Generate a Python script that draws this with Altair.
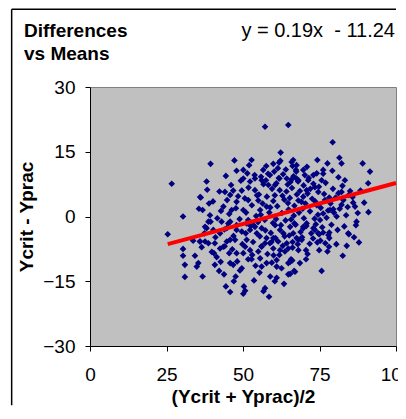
import altair as alt
import pandas as pd

# ---- data ----
x_vals = [
    26.7, 36.0, 30.4, 25.4, 30.4, 30.4, 34.3, 31.0, 31.0, 34.9, 33.7, 36.0, 35.4, 36.8,
    57.2, 64.8, 62.3, 39.4, 52.8, 59.9, 61.8, 66.2, 67.3, 47.9, 50.1, 56.6, 51.4, 38.1,
    50.1, 53.9, 52.3, 58.8, 57.5, 56.1, 61.9, 64.3, 65.9, 67.5, 36.2, 44.1, 46.8, 49.6,
    45.8, 53.9, 58.3, 60.5, 43.6, 36.8, 39.2, 47.9, 51.7, 55.0, 46.3, 50.1, 43.0, 45.2,
    38.1, 40.3, 47.9, 51.7, 53.4, 55.6, 57.7,
    79.3, 81.5, 82.2, 74.3, 77.6, 89.1, 91.5, 76.2, 74.1, 73.0, 66.4, 69.7, 67.5, 83.3,
    90.9, 75.7, 71.3, 68.1, 85.0, 82.2, 81.2, 73.5, 74.6, 70.8, 69.7, 78.2, 76.8, 82.8,
    86.6, 86.0, 82.2, 79.5, 76.2, 78.4, 80.6, 87.1, 86.9, 84.4, 75.2, 73.0, 74.6, 77.9,
    70.8, 69.7,
    84.6, 83.9, 82.6, 78.2, 78.2, 76.2, 74.9, 77.6, 74.9, 75.7, 69.2, 68.1, 66.2, 68.1,
    70.6, 71.1, 70.6, 68.6, 66.7, 65.7, 65.4, 66.8, 69.7, 73.5,
    40.8, 41.4, 42.7, 43.8, 44.4, 45.8, 47.6, 49.0, 49.6, 50.3, 50.1, 50.7, 57.2, 58.5,
    45.8, 46.8, 45.5, 47.9, 51.7, 52.8, 56.1, 57.7, 59.4, 61.0, 64.8, 64.8, 67.0, 40.5,
    42.5, 40.8, 38.7, 37.6, 35.9, 45.8, 47.4, 44.7, 43.6, 50.1, 50.7, 52.3, 51.2, 55.6,
    55.0, 56.1, 57.2, 58.8, 59.9, 61.0, 62.1, 63.7, 65.4, 64.8, 57.7, 59.9, 61.5, 63.2,
    54.5, 53.9, 56.1, 60.5, 62.1, 65.4, 66.4, 67.5, 47.9, 49.6, 42.5, 44.7, 37.6, 38.7,
    45.8, 51.2, 52.3,
    55.2, 56.4, 57.8, 58.9, 59.5, 55.8, 57.1, 58.6, 59.8, 56.7, 58.2, 55.5, 57.3, 59.1,
    56.0, 58.0, 59.3, 57.6, 55.9, 59.9,
    60.4, 61.2, 62.0, 62.7, 63.5, 64.2, 64.9, 60.8, 61.7, 62.4, 63.1, 63.9, 64.6, 60.2,
    61.4, 62.9, 63.6, 64.3, 60.6, 61.9, 63.0, 64.7, 62.2, 60.9, 64.0,
    65.3, 66.0, 66.8, 67.6, 68.3, 69.1, 69.8, 65.7, 66.5, 67.2, 68.0, 68.8, 69.5, 65.1,
    66.2, 67.9, 69.3, 65.9, 67.4, 68.6, 69.9, 66.6, 68.1, 65.5,
    70.4, 71.1, 71.9, 72.6, 73.4, 74.1, 74.8, 70.7, 71.5, 72.3, 73.0, 73.8, 74.5, 70.2,
    71.8, 72.9, 70.9, 72.0, 73.6, 74.3,
    75.4, 76.5, 77.3, 78.6, 79.4, 75.9, 77.0, 78.9, 79.7, 76.2, 77.8, 75.3, 78.1, 79.2,
    76.9,
    80.3, 81.6, 82.5, 83.7, 84.6, 80.9, 83.1, 81.2, 84.2, 80.5,
    85.8, 87.5, 88.4, 86.3, 89.6, 91.0, 87.9,
    40.2, 41.6, 42.3, 43.9, 44.8, 45.5, 46.1, 46.9, 47.7, 48.4, 48.9, 49.3, 49.8, 50.6,
    51.0, 51.8, 52.5, 52.9, 53.3, 53.8, 54.3, 54.6, 54.9, 41.0, 42.8, 44.0, 46.5, 48.1,
    50.9, 53.0, 54.1, 52.0, 47.2, 44.4, 39.8,
    35.6, 37.4, 38.9, 36.5, 38.3, 39.4,
    55.4, 58.9, 60.4, 62.6, 66.1, 63.4, 53.6, 47.0, 42.2, 56.7, 60.0, 61.0,
]
y_vals = [
    7.6, 4.5, 0.0, -4.1, -7.5, -9.1, -9.1, -11.2, -14.0, -11.6, -5.6, -5.8, -10.8, -13.9,
    20.8, 21.2, 14.8, 12.2, 13.1, 12.2, 12.5, 11.7, 10.8, 10.6, 10.8, 10.8, 10.0, 8.1,
    8.8, 8.8, 8.1, 9.6, 8.4, 8.4, 8.8, 8.8, 8.6, 8.8, 4.4, 5.7, 6.0, 6.0,
    5.0, 6.1, 7.3, 7.3, 2.3, 1.5, 0.3, 3.4, 3.8, 3.7, 1.5, 1.5, -1.2, -1.6,
    -2.7, -3.1, -2.0, -0.8, -2.0, 1.5, 2.3,
    17.2, 13.6, 12.3, 13.1, 12.3, 12.3, 10.4, 10.8, 10.0, 9.6, 13.1, 10.8, 11.9, 8.4,
    7.7, 8.4, 8.4, 8.4, 5.9, 5.7, 5.4, 6.8, 5.7, 6.1, 4.6, 4.4, 3.8, 3.8,
    2.3, 3.2, 2.7, 1.7, 0.7, 1.5, 0.0, -1.2, -2.0, -3.9, -0.8, -2.7, -3.9, -4.3,
    -1.6, -2.7,
    -4.1, -6.8, -9.1, -3.7, -5.0, -3.7, -4.1, -8.1, -7.8, -12.6, -5.4, -5.4, -7.2, -7.8,
    -7.8, -8.7, -9.9, -10.8, -12.6, -9.9, -13.3, -1.6, -2.4, -3.1,
    -11.2, -9.4, -10.5, -13.4, -16.2, -17.5, -13.9, -12.5, -12.0, -16.2, -17.9, -17.2, -16.6, -18.6,
    -10.8, -11.2, -8.5, -8.5, -9.9, -9.9, -11.6, -10.8, -10.7, -11.6, -13.4, -10.8, -12.8, -8.5,
    -7.4, -6.2, -6.2, -5.8, -5.8, -5.4, -5.4, -5.8, -7.0, -8.5, -7.0, -7.8, -5.4, -9.7,
    -8.1, -7.0, -6.2, -6.2, -7.4, -10.1, -7.8, -8.1, -10.5, -7.4, -5.0, -5.0, -5.8, -3.9,
    -3.9, -2.4, -2.7, -2.0, -3.1, -2.4, -3.9, -5.0, -3.1, -3.5, -3.9, -2.7, -2.4, -1.2,
    -1.2, -1.6, -3.1,
    5.1, 3.0, 4.6, 2.1, 6.4, 0.4, -0.8, 0.9, -1.5, 7.5, 9.9, -4.6, -3.2, -3.8,
    -6.9, -8.7, -5.9, 11.7, 9.2, 3.6,
    4.9, 2.4, 6.1, 0.8, 3.9, 5.8, 1.6, -0.6, 8.9, -2.0, 9.8, -0.9, 7.4, 10.4,
    11.2, 4.8, -4.6, -6.2, -5.0, -8.9, -6.8, 3.1, 12.9, 7.7, 10.9,
    4.3, 6.6, 2.5, 5.1, 0.9, 3.4, 7.2, -0.7, 9.3, -1.9, 8.1, -3.6, 1.8, -4.4,
    -5.9, -6.4, -4.8, 12.6, 10.4, 5.9, -0.4, 0.2, 3.7, 8.0,
    3.0, 5.3, 1.2, 4.1, -0.5, 2.6, 6.9, -2.2, 8.9, -3.9, 7.6, -1.8, 0.4, 9.6,
    -6.3, -5.1, 11.5, 6.4, 3.5, -6.0,
    2.0, 5.2, -0.3, 3.0, 6.4, -2.5, 7.8, -1.9, 0.9, 9.9, 1.4, -5.6, -7.0, 10.6,
    -6.2,
    4.4, 1.8, 7.1, 0.3, 5.0, -3.1, -2.3, 9.1, 2.2, -6.4,
    4.5, 0.8, 6.0, -4.8, 3.2, 1.0, -6.0,
    3.5, -0.4, 5.8, -3.0, 3.8, 0.6, 7.3, -4.5, 1.9, 4.7, -0.6, 8.3, -6.4, 4.2,
    0.9, 6.7, -2.2, 2.6, -5.9, 9.6, 0.1, 4.9, -1.3, -4.8, 1.3, -6.9, -7.6, -10.4,
    -3.9, -8.9, -11.4, 11.9, 13.0, 9.4, -8.2,
    1.8, -3.9, 3.0, -7.1, 6.2, -1.2,
    -13.0, -13.9, -15.0, -12.0, -10.2, -15.6, -14.8, -15.0, -12.6, -17.3, -9.0, -14.2,
]

slope = 0.19
intercept = -11.24
line_x = [25.4, 100.0]
title_lines = ["Differences", "vs Means"]
equation_text = "y = 0.19x \u00a0- 11.24"
x_title = "(Ycrit + Yprac)/2"
y_title = "Ycrit - Yprac"
x_ticks = [0, 25, 50, 75, 100]
y_ticks = [-30, -15, 0, 15, 30]

FONT = "Liberation Sans"
FS = 19

pts = pd.DataFrame({"x": x_vals, "y": y_vals})
line_df = pd.DataFrame({"x": line_x, "y": [slope * v + intercept for v in line_x]})

xscale = alt.Scale(domain=[0, 100], nice=False, zero=False)
yscale = alt.Scale(domain=[-30, 30], nice=False, zero=False)

xaxis = alt.Axis(values=x_ticks, title=x_title, grid=False, labelFontSize=FS,
                 labelFont=FONT, labelColor="black", tickColor="black", tickSize=5,
                 domainColor="black", labelPadding=14, titleFont=FONT,
                 titleFontSize=FS, titleFontWeight="bold", titleColor="black",
                 titlePadding=3, labelFlush=False)
yaxis = alt.Axis(values=y_ticks, title=y_title, grid=False, labelFontSize=FS,
                 labelFont=FONT, labelColor="black", tickColor="black", tickSize=5,
                 domainColor="black", labelPadding=10, titleFont=FONT,
                 titleFontSize=FS, titleFontWeight="bold", titleColor="black",
                 titlePadding=6, labelFlush=False)

points = alt.Chart(pts).mark_point(shape="diamond", filled=True, color="#000080",
                                   size=44, opacity=1).encode(
    x=alt.X("x:Q", scale=xscale, axis=xaxis),
    y=alt.Y("y:Q", scale=yscale, axis=yaxis),
)

trend = alt.Chart(line_df).mark_line(color="#FF0000", strokeWidth=4).encode(
    x=alt.X("x:Q", scale=xscale),
    y=alt.Y("y:Q", scale=yscale),
)

# outer chart border (left and top edges), kept inside the drawing area
border_left = alt.Chart(pd.DataFrame({"bx": [-25.6], "by": [48.0], "by2": [-43.7]})).mark_rule(
    color="black", strokeWidth=1.5).encode(
    x=alt.X("bx:Q", scale=xscale), y=alt.Y("by:Q", scale=yscale), y2="by2:Q")
border_top = alt.Chart(pd.DataFrame({"bx": [-25.6], "bx2": [100.0], "by": [48.0]})).mark_rule(
    color="black", strokeWidth=1.5).encode(
    x=alt.X("bx:Q", scale=xscale), x2="bx2:Q", y=alt.Y("by:Q", scale=yscale))

title1 = alt.Chart(pd.DataFrame({"t": [title_lines[0]]})).mark_text(
    font=FONT, fontSize=FS, fontWeight="bold", align="left", baseline="alphabetic",
    color="black").encode(text="t:N", x=alt.value(-66), y=alt.value(-50))
title2 = alt.Chart(pd.DataFrame({"t": [title_lines[1]]})).mark_text(
    font=FONT, fontSize=FS, fontWeight="bold", align="left", baseline="alphabetic",
    color="black").encode(text="t:N", x=alt.value(-66), y=alt.value(-27))

eq_txt = alt.Chart(pd.DataFrame({"t": [equation_text]})).mark_text(
    font=FONT, fontSize=20, align="right", baseline="alphabetic", color="black").encode(
    text="t:N", x=alt.value(305), y=alt.value(-50))

chart = alt.layer(points, border_left, border_top, trend, title1, title2, eq_txt).properties(
    width=306, height=259,
    padding={"left": 82, "top": 79, "right": 2, "bottom": 62},
    autosize=alt.AutoSizeParams(type="none"),
).configure_view(fill="#C0C0C0", stroke="#808080", strokeWidth=1)

chart.save("out.html", embed_options={"renderer": "svg", "actions": False})
